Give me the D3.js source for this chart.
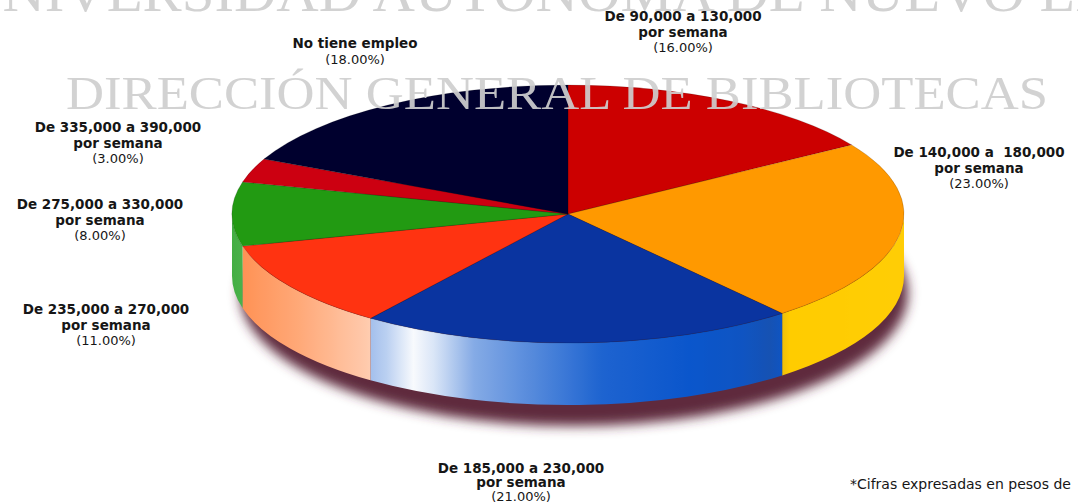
<!DOCTYPE html>
<html>
<head>
<meta charset="utf-8">
<script src="https://cdn.jsdelivr.net/npm/d3@7"></script>
<style>
  html, body { margin: 0; padding: 0; background: #fff; overflow: hidden; }
  svg { display: block; }
</style>
</head>
<body>
<svg id="chart" width="1078" height="504"></svg>
<script>
// Weekly income brackets and their share of respondents (percent)
const categories = [
  "De 90,000 a 130,000",
  "De 140,000 a  180,000",
  "De 185,000 a 230,000",
  "De 235,000 a 270,000",
  "De 275,000 a 330,000",
  "De 335,000 a 390,000",
  "No tiene empleo"
];
const periods = ["por semana", "por semana", "por semana", "por semana", "por semana", "por semana", ""];
const shares = [16, 23, 21, 11, 8, 3, 18];

// Face colours of each slice and of its outer wall
const topColors  = ["#cc0000", "#ff9900", "#0a34a0", "#ff3311", "#229a12", "#cc0011", "#00002e"];
const wallColors = ["#cc0000", "#ffcc00", "#0a56cc", "#ff7a30", "#22a022", "#cc0011", "#00002e"];

const footnote = "*Cifras expresadas en pesos de";
const watermark = ["UNIVERSIDAD AUTÓNOMA DE NUEVO LEÓN", "DIRECCIÓN GENERAL DE BIBLIOTECAS"];

// ---- layout ----
const W = 1078, H = 504;
const cx = 568, cy = 214, rx = 336, ry = 129, depth = 62;

// where each label block is centred (x), where its first line sits (y), line spacing
const labelSpots = [
  [683, 21, 15.5], [979, 157, 15.5], [521, 473, 14], [106, 314, 15.5],
  [100, 209, 15.5], [118, 132, 15.5], [355, 48, 16]
];

const svg = d3.select("#chart");
const defs = svg.append("defs");

// blurred drop shadow under the disc
defs.append("filter").attr("id", "soft").attr("x", "-20%").attr("y", "-30%")
  .attr("width", "140%").attr("height", "160%")
  .append("feGaussianBlur").attr("stdDeviation", 6);

const arcs = d3.pie().sort(null).value(d => d)(shares);

// projection of a pie angle (clockwise from 12 o'clock) onto the tilted ellipse
const pt = (a, dy = 0) => [cx + rx * Math.sin(a), cy - ry * Math.cos(a) + dy];

// horizontal lighting across the wall: >0 mixes toward white, <0 toward shade
const light = d3.scaleLinear()
  .domain([0, 0.1, 0.2, 0.23, 0.27, 0.3, 0.36, 0.45, 0.55, 0.68, 0.76, 0.8, 0.83, 1])
  .range([0.15, 0.35, 0.6, 0.72, 0.97, 0.85, 0.5, 0.3, 0.08, 0, -0.1, -0.25, 0, 0.02]);

wallColors.forEach((c, i) => {
  const g = defs.append("linearGradient").attr("id", "wall" + i)
    .attr("gradientUnits", "userSpaceOnUse")
    .attr("x1", cx - rx).attr("x2", cx + rx).attr("y1", 0).attr("y2", 0);
  d3.range(0, 1.0001, 0.01).forEach(t => {
    const m = light(t);
    const col = m >= 0 ? d3.interpolateRgb(c, "#ffffff")(m) : d3.interpolateRgb(c, "#3a4468")(-m);
    g.append("stop").attr("offset", t).attr("stop-color", col);
  });
});

// shadow
svg.append("ellipse")
  .attr("cx", cx + 6).attr("cy", cy + depth + 17)
  .attr("rx", rx - 2).attr("ry", ry + 4)
  .attr("fill", "#5e2a3c")
  .attr("filter", "url(#soft)");

// outer walls (front half only)
const walls = svg.append("g");
arcs.forEach((d, i) => {
  const s = Math.max(d.startAngle, Math.PI / 2);
  const e = Math.min(d.endAngle, 3 * Math.PI / 2);
  if (s >= e) return;
  const [x0, y0] = pt(s), [x1, y1] = pt(e);
  const path = `M${x0},${y0} A${rx},${ry} 0 0 1 ${x1},${y1} L${x1},${y1 + depth} ` +
               `A${rx},${ry} 0 0 0 ${x0},${y0 + depth} Z`;
  walls.append("path").attr("d", path).attr("fill", `url(#wall${i})`);
});

// top faces
const tops = svg.append("g");
arcs.forEach((d, i) => {
  const [x0, y0] = pt(d.startAngle), [x1, y1] = pt(d.endAngle);
  const large = d.endAngle - d.startAngle > Math.PI ? 1 : 0;
  tops.append("path")
    .attr("d", `M${cx},${cy} L${x0},${y0} A${rx},${ry} 0 ${large} 1 ${x1},${y1} Z`)
    .attr("fill", topColors[i])
    .attr("stroke", "rgba(0,0,0,0.22)").attr("stroke-width", 0.7)
    .attr("stroke-linejoin", "round");
});

// library watermark
const wm = svg.append("g").attr("fill", "#cfcfcf").attr("opacity", 0.92)
  .attr("font-family", "'Liberation Serif', 'DejaVu Serif', serif");
wm.append("text").attr("x", -40).attr("y", 11).attr("font-size", 54)
  .attr("textLength", 1236).attr("lengthAdjust", "spacingAndGlyphs").text(watermark[0]);
wm.append("text").attr("x", 66).attr("y", 109).attr("font-size", 47)
  .attr("textLength", 982).attr("lengthAdjust", "spacingAndGlyphs").text(watermark[1]);

// slice labels
const fmt = d3.format(".2f");
const labels = svg.append("g").attr("font-family", "'DejaVu Sans', sans-serif")
  .attr("text-anchor", "middle");
categories.forEach((name, i) => {
  const [lx, ly, gap] = labelSpots[i];
  const lines = [[name, "bold"]];
  if (periods[i]) lines.push([periods[i], "bold"]);
  lines.push([`(${fmt(shares[i])}%)`, "normal"]);
  lines.forEach(([txt, wt], k) => {
    labels.append("text")
      .attr("x", lx).attr("y", ly + k * gap)
      .attr("font-size", wt === "bold" ? 13.5 : 13)
      .attr("font-weight", wt)
      .attr("fill", "#161616")
      .attr("xml:space", "preserve")
      .style("white-space", "pre")
      .text(txt);
  });
});

svg.append("text").attr("x", 850).attr("y", 489)
  .attr("font-family", "'DejaVu Sans', sans-serif").attr("font-size", 14)
  .attr("fill", "#161616").text(footnote);
</script>
</body>
</html>
